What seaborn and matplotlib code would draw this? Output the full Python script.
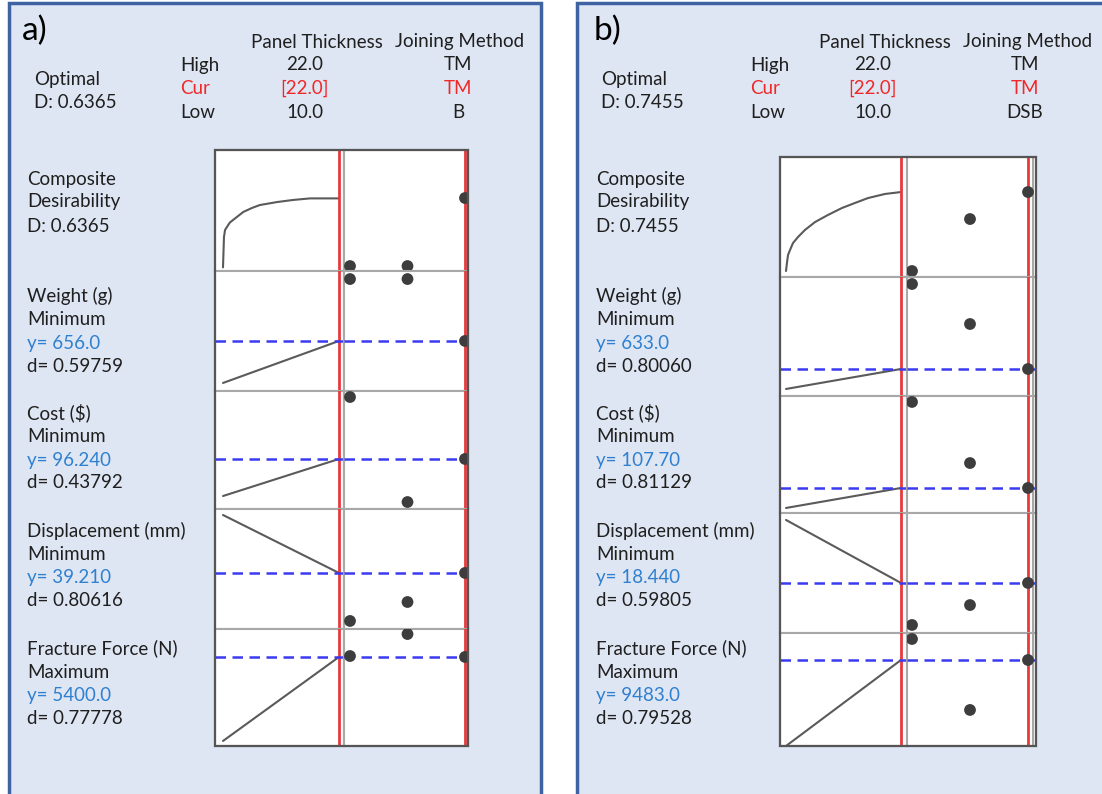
import numpy as np
import pandas as pd
import matplotlib
matplotlib.use("Agg")
import matplotlib.pyplot as plt
import seaborn as sns
from matplotlib.patches import Rectangle

sns.set_theme(style="white")
plt.rcParams['font.family'] = ['Lato', 'DejaVu Sans']

# ---------------- data ----------------
panel_tags = ["a)", "b)"]
optimal_D = ["0.6365", "0.7455"]
factor_names = ["Panel Thickness", "Joining Method"]
thick_high, thick_cur, thick_low = "22.0", "[22.0]", "10.0"
join_high = ["TM", "TM"]
join_cur = ["TM", "TM"]
join_low = ["B", "DSB"]

resp_names = ["Weight (g)", "Cost ($)", "Displacement (mm)", "Fracture Force (N)"]
resp_goals = ["Minimum", "Minimum", "Minimum", "Maximum"]
y_text_a = ["656.0", "96.240", "39.210", "5400.0"]
d_text_a = ["0.59759", "0.43792", "0.80616", "0.77778"]
y_text_b = ["633.0", "107.70", "18.440", "9483.0"]
d_text_b = ["0.80060", "0.81129", "0.59805", "0.79528"]

# thickness range of the factor
thick_range = [10.0, 22.0]
# Joining method levels (index positions on the categorical column)
join_levels = [0, 1, 2]

# composite desirability curves (scaled 0..1 within the row)
thick_D_a = [10.0, 10.1, 10.21, 10.41, 10.7, 11.03, 12.1, 13.0, 13.8, 15.6, 17.24, 19.0, 22.0]
curve_D_a = [0.03, 0.28, 0.339, 0.364, 0.40, 0.421, 0.488, 0.521, 0.545, 0.57, 0.587, 0.60, 0.60]
thick_D_b = [10.0, 10.1, 10.21, 10.42, 10.73, 11.25, 11.98, 13.03, 14.38, 15.84, 17.2, 18.56, 20.33, 22.0]
curve_D_b = [0.05, 0.117, 0.183, 0.225, 0.283, 0.333, 0.392, 0.458, 0.517, 0.575, 0.617, 0.658, 0.692, 0.708]

# response lines vs thickness (scaled 0..1 within each row): value at low / high thickness
line_low_a = [0.067, 0.110, 0.950, 0.043]
line_high_a = [0.417, 0.424, 0.467, 0.761]
line_low_b = [0.059, 0.043, 0.942, 0.000]
line_high_b = [0.227, 0.214, 0.417, 0.761]

# categorical points per row (D, Weight, Cost, Displacement, Fracture) for levels 0,1,2
pts_D_a = [0.041, 0.041, 0.603]
pts_weight_a = [0.933, 0.933, 0.417]
pts_cost_a = [0.949, 0.059, 0.424]
pts_disp_a = [0.067, 0.225, 0.467]
pts_frac_a = [0.769, 0.957, 0.761]

pts_D_b = [0.050, 0.483, 0.708]
pts_weight_b = [0.941, 0.605, 0.227]
pts_cost_b = [0.949, 0.427, 0.214]
pts_disp_b = [0.067, 0.233, 0.417]
pts_frac_b = [0.947, 0.319, 0.761]

# ---------------- styling / layout ----------------
W, H = 1102, 794
BG = "#dfe6f3"
BORDER = "#3f62a3"
TXT = "#1f1f1f"
RED = "#e8393b"
BLUE_TXT = "#2f80d0"
DASH = "#3a3af0"
CURVE = "#5a5a5a"
PT = "#3d3d3d"
GRID = "#a8a8a8"
FS = 13.5

def fx(px):
    return px / W

def fy(py):
    return 1 - py / H

fig = plt.figure(figsize=(W / 100, H / 100), dpi=100)
fig.patch.set_facecolor("white")

layouts = [
    dict(panel=(9, 3, 541, 800), box=(215, 468), sep=344, rows=[150, 271, 391, 509, 629, 746],
         t_px=(223, 339), lv_px=(350, 465), extra_vline=None,
         tx=22, opt_x=34, hdr_left=180, c1=305, c2=458, h1=317, h2=460, lab_x=27),
    dict(panel=(577, 3, 1110, 800), box=(780, 1036), sep=907, rows=[157, 277, 396, 513, 633, 746],
         t_px=(786, 901), lv_px=(912, 1028), extra_vline=1033,
         tx=594, opt_x=601, hdr_left=750, c1=873, c2=1025, h1=885, h2=1028, lab_x=596),
]

panels = [
    dict(thD=thick_D_a, cD=curve_D_a, low=line_low_a, high=line_high_a,
         pts=[pts_D_a, pts_weight_a, pts_cost_a, pts_disp_a, pts_frac_a],
         ytxt=y_text_a, dtxt=d_text_a),
    dict(thD=thick_D_b, cD=curve_D_b, low=line_low_b, high=line_high_b,
         pts=[pts_D_b, pts_weight_b, pts_cost_b, pts_disp_b, pts_frac_b],
         ytxt=y_text_b, dtxt=d_text_b),
]

for k, (L, P) in enumerate(zip(layouts, panels)):
    x0p, y0p, x1p, y1p = L["panel"]
    fig.patches.append(Rectangle((fx(x0p), fy(y1p)), fx(x1p) - fx(x0p), fy(y0p) - fy(y1p),
                                 transform=fig.transFigure, facecolor=BG, edgecolor=BORDER,
                                 linewidth=2.5, zorder=-5))
    # header
    fig.text(fx(L["tx"]), fy(31), panel_tags[k], fontsize=24, color="black", va="center", ha="left")
    fig.text(fx(L["h1"]), fy(42), factor_names[0], fontsize=FS, color=TXT, ha="center", va="center")
    fig.text(fx(L["h2"]), fy(42), factor_names[1], fontsize=FS, color=TXT, ha="center", va="center")
    rows_hdr = [("High", thick_high, join_high[k], TXT, 65),
                ("Cur", thick_cur, join_cur[k], "#f02828", 88),
                ("Low", thick_low, join_low[k], TXT, 112)]
    for lab, v1, v2, col, yy in rows_hdr:
        fig.text(fx(L["hdr_left"]), fy(yy), lab, fontsize=FS, color=col, ha="left", va="center")
        fig.text(fx(L["c1"]), fy(yy), v1, fontsize=FS, color=col, ha="center", va="center")
        fig.text(fx(L["c2"]), fy(yy), v2, fontsize=FS, color=col, ha="center", va="center")
    fig.text(fx(L["opt_x"]), fy(80), "Optimal", fontsize=FS, color=TXT, va="center")
    fig.text(fx(L["opt_x"]), fy(103), "D: " + optimal_D[k], fontsize=FS, color=TXT, va="center")

    # left labels
    lx = fx(L["lab_x"])
    for yy, s in zip([179, 202, 226], ["Composite", "Desirability", "D: " + optimal_D[k]]):
        fig.text(lx, fy(yy), s, fontsize=FS, color=TXT, va="center")
    base_y = [296, 413, 531, 648]
    for i in range(4):
        b = base_y[i]
        fig.text(lx, fy(b), resp_names[i], fontsize=FS, color=TXT, va="center")
        fig.text(lx, fy(b + 24), resp_goals[i], fontsize=FS, color=TXT, va="center")
        fig.text(lx, fy(b + 47), "y= " + P["ytxt"][i], fontsize=FS, color=BLUE_TXT, va="center")
        fig.text(lx, fy(b + 70), "d= " + P["dtxt"][i], fontsize=FS, color=TXT, va="center")

    # plot grid
    bx0, bx1 = L["box"]
    sep = L["sep"]
    rows = L["rows"]
    tpx0, tpx1 = L["t_px"]
    sc_t = (tpx1 - tpx0) / (thick_range[1] - thick_range[0])
    xlim1 = (thick_range[0] - (tpx0 - bx0) / sc_t, thick_range[1] + (sep - tpx1) / sc_t)
    lpx0, lpx1 = L["lv_px"]
    sc_l = (lpx1 - lpx0) / (join_levels[-1] - join_levels[0])
    xlim2 = (join_levels[0] - (lpx0 - sep) / sc_l, join_levels[-1] + (bx1 - lpx1) / sc_l)

    for r in range(5):
        top, bot = rows[r], rows[r + 1]
        ax1 = fig.add_axes([fx(bx0), fy(bot), fx(sep) - fx(bx0), fy(top) - fy(bot)])
        ax2 = fig.add_axes([fx(sep), fy(bot), fx(bx1) - fx(sep), fy(top) - fy(bot)])
        # curve / line
        if r == 0:
            df = pd.DataFrame({"t": P["thD"], "v": P["cD"]})
        else:
            df = pd.DataFrame({"t": thick_range, "v": [P["low"][r - 1], P["high"][r - 1]]})
        sns.lineplot(data=df, x="t", y="v", ax=ax1, color=CURVE, linewidth=1.5,
                     estimator=None, sort=False, legend=False)
        # red current-setting lines
        ax1.axvline(thick_range[1], color=RED, linewidth=2, zorder=3)
        ax2.axvline(join_levels[-1], color=RED, linewidth=2, zorder=3)
        if L["extra_vline"] is not None:
            ax2.axvline(join_levels[-1] + (L["extra_vline"] - lpx1) / sc_l, color=GRID,
                        linewidth=1.5, zorder=2)
        # dashed response line
        if r > 0:
            yv = P["high"][r - 1]
            for ax in (ax1, ax2):
                ax.axhline(yv, color=DASH, linewidth=1.8, dashes=(4.2, 2.6), zorder=4)
        # categorical points
        dfp = pd.DataFrame({"lvl": join_levels, "v": P["pts"][r]})
        sns.scatterplot(data=dfp, x="lvl", y="v", ax=ax2, color=PT, s=72, edgecolor="none",
                        zorder=5, legend=False)
        for ax, xl in ((ax1, xlim1), (ax2, xlim2)):
            ax.set_facecolor("white")
            ax.set_xlim(*xl)
            ax.set_ylim(0, 1)
            ax.set_xticks([])
            ax.set_yticks([])
            ax.set_xlabel("")
            ax.set_ylabel("")
            for sp in ax.spines.values():
                sp.set_color(GRID)
                sp.set_linewidth(1.5)

    # outer box
    fig.patches.append(Rectangle((fx(bx0), fy(rows[-1])), fx(bx1) - fx(bx0), fy(rows[0]) - fy(rows[-1]),
                                 transform=fig.transFigure, facecolor="none", edgecolor="#555555",
                                 linewidth=1.6, zorder=10))

fig.savefig("out.png", dpi=100, facecolor="white")
